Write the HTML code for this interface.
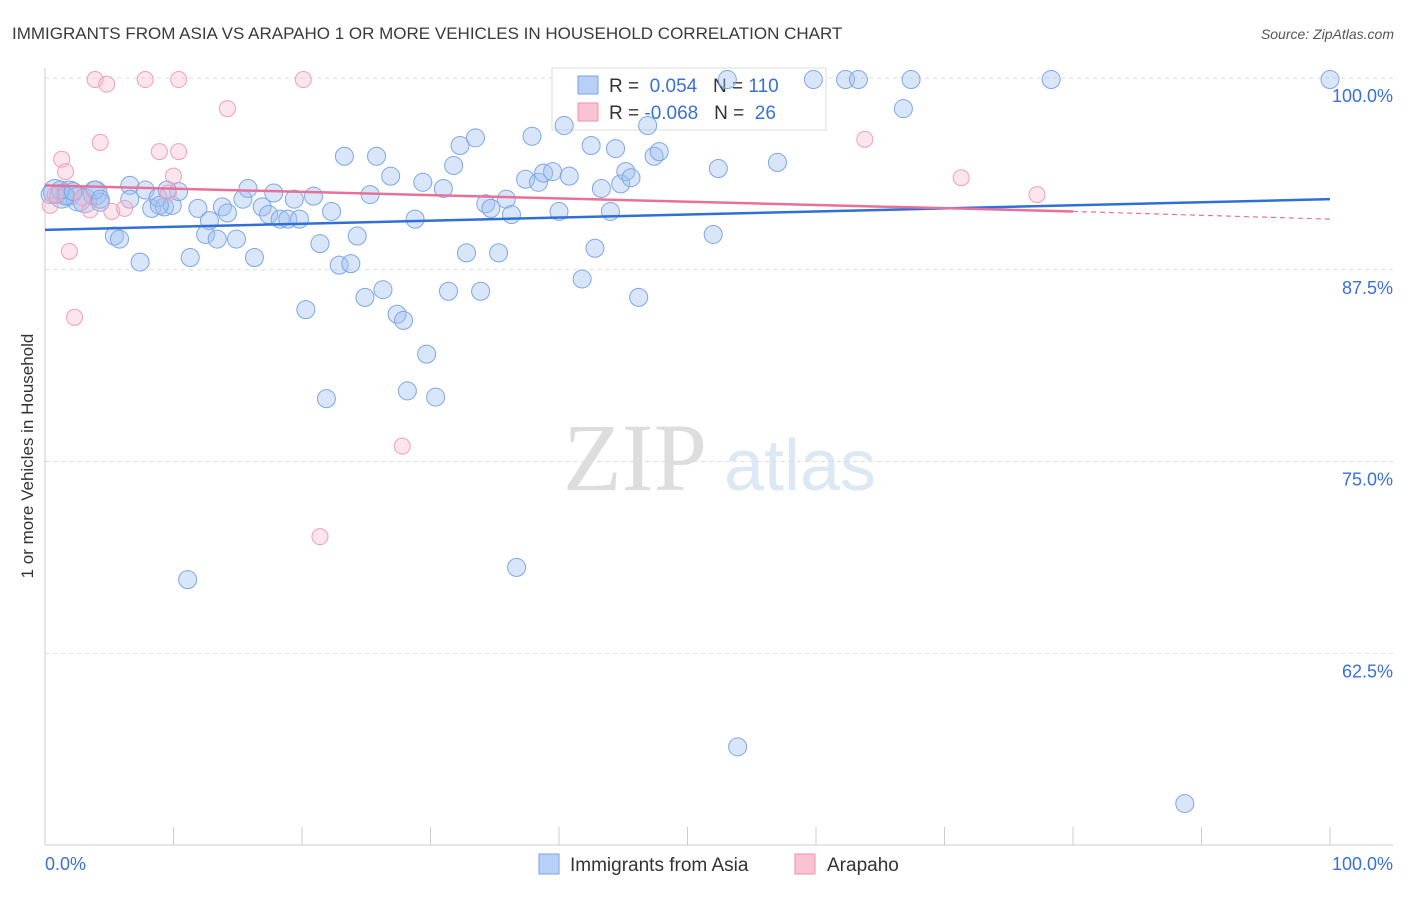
<!DOCTYPE html>
<html><head><meta charset="utf-8"><style>
body{margin:0;background:#fff;font-family:"Liberation Sans",sans-serif}
</style></head><body>
<svg width="1406" height="892" xmlns="http://www.w3.org/2000/svg" font-family="Liberation Sans, sans-serif">
<text x="12" y="39" font-size="17" fill="#3a3a3a">IMMIGRANTS FROM ASIA VS ARAPAHO 1 OR MORE VEHICLES IN HOUSEHOLD CORRELATION CHART</text>
<text x="1394" y="39" font-size="14" fill="#555" text-anchor="end" font-style="italic">Source: ZipAtlas.com</text>
<text transform="translate(33,456) rotate(-90)" font-size="17" fill="#333" text-anchor="middle">1 or more Vehicles in Household</text>
<g>
<text x="635" y="490" font-size="96" fill="#ddd" font-family="Liberation Serif, serif" text-anchor="middle">ZIP</text>
<text x="800" y="490" font-size="72" fill="#dde8f5" text-anchor="middle">atlas</text>
</g>
<g id="grid"></g><g id="axes"></g>
<g>
<rect x="552" y="68" width="274" height="62" fill="#fff" stroke="#ddd"/>
<rect x="578" y="76" width="20" height="18" fill="#b8d0f5" stroke="#7aa3e5"/>
<rect x="578" y="103" width="20" height="18" fill="#f9c3d3" stroke="#ee91ac"/>
<text x="609" y="92" font-size="19" fill="#333">R = <tspan fill="#3a6fd8">&#160;0.054</tspan>&#160;&#160; N = <tspan fill="#3a6fd8">110</tspan></text>
<text x="609" y="119" font-size="19" fill="#333">R = <tspan fill="#3a6fd8">-0.068</tspan>&#160;&#160; N = <tspan fill="#3a6fd8">&#160;26</tspan></text>
</g>
<g id="marks"></g>
<g>
<rect x="539" y="854" width="20" height="20" fill="#b8d0f5" stroke="#7aa3e5"/>
<text x="570" y="871" font-size="19" fill="#333">Immigrants from Asia</text>
<rect x="795" y="854" width="20" height="20" fill="#f9c3d3" stroke="#ee91ac"/>
<text x="827" y="871" font-size="19" fill="#333">Arapaho</text>
</g>
</svg>
<script>
const blueX=[0.8,1.3,1.9,2.6,3.1,3.9,4.3,5.4,5.8,6.6,7.4,7.8,8.3,8.8,9.3,9.9,10.4,11.1,11.3,11.9,12.8,12.5,13.4,13.8,14.2,14.9,15.4,15.8,16.3,16.9,17.4,17.8,18.3,18.9,19.8,19.4,20.3,20.9,21.4,21.9,22.3,22.9,23.3,23.8,24.3,24.9,25.3,25.8,26.3,26.9,27.4,27.9,28.2,28.8,29.4,29.7,30.4,31.0,31.4,31.8,32.3,32.8,33.5,33.9,34.3,34.7,35.3,35.9,36.3,36.7,37.4,37.9,38.4,38.8,39.5,40.0,40.4,40.8,41.8,42.8,43.3,44.0,44.4,44.8,45.2,45.6,46.2,46.9,47.4,47.8,52.0,52.4,53.1,53.9,57.0,59.8,62.3,63.3,66.8,67.4,78.3,88.7,100.0,42.5,3.9,1.6,1.2,0.4,8.9,4.3,2.2,6.6,9.5];
const blueY=[92.6,92.3,92.5,92.1,92.0,92.5,91.9,89.7,89.5,93.0,88.0,92.7,91.5,92.2,91.6,91.7,92.6,67.3,88.3,91.5,90.7,89.8,89.5,91.6,91.2,89.5,92.1,92.8,88.3,91.6,91.1,92.5,90.8,90.8,90.8,92.1,84.9,92.3,89.2,79.1,91.3,87.8,94.9,87.9,89.7,85.7,92.4,94.9,86.2,93.6,84.6,84.2,79.6,90.8,93.2,82.0,79.2,92.8,86.1,94.3,95.6,88.6,96.1,86.1,91.8,91.5,88.6,92.1,91.1,68.1,93.4,96.2,93.2,93.8,93.9,91.3,96.9,93.6,86.9,88.9,92.8,91.3,95.4,93.1,93.9,93.5,85.7,96.9,94.9,95.2,89.8,94.1,99.9,56.4,94.5,99.9,99.9,99.9,98.0,99.9,99.9,52.7,99.9,95.6,92.7,92.3,92.7,92.4,91.7,92.1,92.6,92.1,92.7];
const pinkX=[0.4,1.3,1.6,1.9,2.3,2.9,3.5,3.9,4.3,4.8,5.2,6.2,7.8,8.9,9.6,10.0,10.4,10.4,14.2,20.1,21.4,27.8,63.8,71.3,77.2,0.8];
const pinkY=[91.7,94.7,93.9,88.7,84.4,92.2,91.4,99.9,95.8,99.6,91.3,91.5,99.9,95.2,92.5,93.6,95.2,99.9,98.0,99.9,70.1,76.0,96.0,93.5,92.4,92.4];
const yTicks=[100,87.5,75,62.5];
const yTickLabels=["100.0%","87.5%","75.0%","62.5%"];
const xTicks=[0,10,20,30,40,50,60,70,80,90,100];
const blueTrend=[90.1,92.1];
const pinkTrend=[93.0,91.3,90.8];
const NS="http://www.w3.org/2000/svg";
const X=v=>45+v*12.85, Y=v=>845-(v-50)*15.34;
function mk(t,a,p){const e=document.createElementNS(NS,t);for(const k in a)e.setAttribute(k,a[k]);document.getElementById(p).appendChild(e);return e;}
yTicks.forEach((t,i)=>{
 const l=mk('line',{x1:45,x2:1393,y1:Y(t),y2:Y(t),stroke:'#ddd','stroke-dasharray':'4,4'},'grid');
 
 
 const tx=mk('text',{x:1393,y:Y(t)+24,'font-size':18,fill:'#3a6fd8','text-anchor':'end'},'axes');
 tx.textContent=yTickLabels[i];
 
 
});
const yl=mk('line',{x1:45,x2:45,y1:68,y2:845,stroke:'#ccc'},'axes');


const xl=mk('line',{x1:45,x2:1393,y1:845,y2:845,stroke:'#ccc'},'axes');


xTicks.forEach(t=>{const l=mk('line',{x1:X(t),x2:X(t),y1:827,y2:845,stroke:'#ccc'},'axes');
 
 });
[[0,'start',45,'0.0%'],[100,'end',1393,'100.0%']].forEach(a=>{const t=mk('text',{x:a[2],y:870,'font-size':18,fill:'#3a6fd8','text-anchor':a[1]},'axes');t.textContent=a[3];
 
 });
blueX.forEach((x,i)=>{const c=mk('circle',{cx:X(x),cy:Y(blueY[i]),r:(x<4&&i<8)?12:9,fill:'rgba(160,192,240,0.4)',stroke:'#7ea6e4','stroke-width':1},'marks');
 
 });
pinkX.forEach((x,i)=>{const c=mk('circle',{cx:X(x),cy:Y(pinkY[i]),r:8,fill:'rgba(246,180,202,0.35)',stroke:'#eea0b8','stroke-width':1},'marks');
 
 });
const bt=mk('line',{x1:X(0),x2:X(100),y1:Y(blueTrend[0]),y2:Y(blueTrend[1]),stroke:'#2f6fd6','stroke-width':2.5},'marks');


const pt=mk('line',{x1:X(0),x2:X(80),y1:Y(pinkTrend[0]),y2:Y(pinkTrend[1]),stroke:'#e8719a','stroke-width':2.5},'marks');


const pd=mk('line',{x1:X(80),x2:X(100),y1:Y(pinkTrend[1]),y2:Y(pinkTrend[2]),stroke:'#e8719a','stroke-width':1.2,'stroke-dasharray':'5,4'},'marks');


</script>
</body></html>
